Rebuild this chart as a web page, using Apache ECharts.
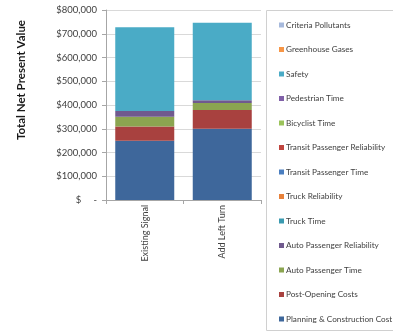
<!DOCTYPE html>
<html><head><meta charset="utf-8">
<script src="https://cdn.jsdelivr.net/npm/echarts@6/dist/echarts.min.js"></script>
<style>html,body{margin:0;padding:0;background:#fff}#c{width:393px;height:335px}</style>
</head><body><div id="c"></div>
<script>
var categories = ['Existing Signal', 'Add Left Turn'];
// stack order bottom -> top
var seriesNames = ['Planning & Construction Cost','Post-Opening Costs','Auto Passenger Time','Auto Passenger Reliability','Truck Time','Truck Reliability','Transit Passenger Time','Transit Passenger Reliability','Bicyclist Time','Pedestrian Time','Safety','Greenhouse Gases','Criteria Pollutants'];
var planning = [250000, 300000];
var postOpening = [60000, 79000];
var autoTime = [41000, 29000];
var autoReliability = [24000, 12000];
var truckTime = [0, 0];
var truckReliability = [0, 0];
var transitTime = [0, 0];
var transitReliability = [0, 0];
var bicyclistTime = [0, 0];
var pedestrianTime = [0, 0];
var safety = [352000, 326000];
var greenhouse = [0, 0];
var criteria = [0, 0];
var yTicks = [0, 100000, 200000, 300000, 400000, 500000, 600000, 700000, 800000];

var values = [planning, postOpening, autoTime, autoReliability, truckTime, truckReliability, transitTime, transitReliability, bicyclistTime, pedestrianTime, safety, greenhouse, criteria];
var barColors = ['#3E679B','#A8413F','#8BA550','#705A8E','#3A9AB0','#E8813A','#4A7EC0','#C0453F','#9BC35A','#8060A8','#4AABC6','#F79646','#A6B9DC'];

var chart = echarts.init(document.getElementById('c'), null, {renderer:'canvas'});
var font = 'Lato, "Liberation Sans", sans-serif';
var series = seriesNames.map(function(n,i){
  return {name:n, type:'bar', stack:'t', data:values[i], barWidth:59,
    itemStyle:{color:barColors[i]}, emphasis:{disabled:true}};
});
chart.setOption({
  animation:false,
  grid:{left:106, right:132, top:10, bottom:135},
  xAxis:{type:'category', data:categories,
    axisLine:{lineStyle:{color:'#a6a6a6'}},
    axisTick:{show:true, length:4, lineStyle:{color:'#a6a6a6'}},
    axisLabel:{rotate:90, fontSize:9, color:'#404040', fontFamily:font, margin:5}},
  yAxis:{type:'value', min:yTicks[0], max:yTicks[yTicks.length-1], interval:yTicks[1]-yTicks[0],
    axisLine:{show:true, lineStyle:{color:'#a6a6a6'}},
    axisTick:{show:true, length:4, lineStyle:{color:'#a6a6a6'}},
    splitLine:{lineStyle:{color:'#d9d9d9'}},
    axisLabel:{fontSize:9.5, color:'#404040', fontFamily:font, margin:9,
      formatter:function(v){ return v===0 ? '$     -' : '$' + v.toLocaleString('en-US'); }}},
  legend:{orient:'vertical', left:274, top:14, itemWidth:5, itemHeight:5, itemGap:12.5,
    data:seriesNames.slice().reverse(),
    textStyle:{fontSize:8.2, color:'#404040', fontFamily:font, lineHeight:12, padding:[0,0,0,-3]},
    itemStyle:{borderWidth:0}, icon:'rect', selectedMode:false},
  graphic:[
    {type:'rect', shape:{x:266.5, y:10.5, width:140, height:320}, style:{fill:'none', stroke:'#d0d0d0', lineWidth:1}, silent:true},
    {type:'text', x:21, y:80, rotation:Math.PI/2, style:{text:'Total Net Present Value', font:'bold 11.5px ' + font, fill:'#1a1a1a', textAlign:'center', textVerticalAlign:'middle'}}
  ],
  series:series
});
</script></body></html>
